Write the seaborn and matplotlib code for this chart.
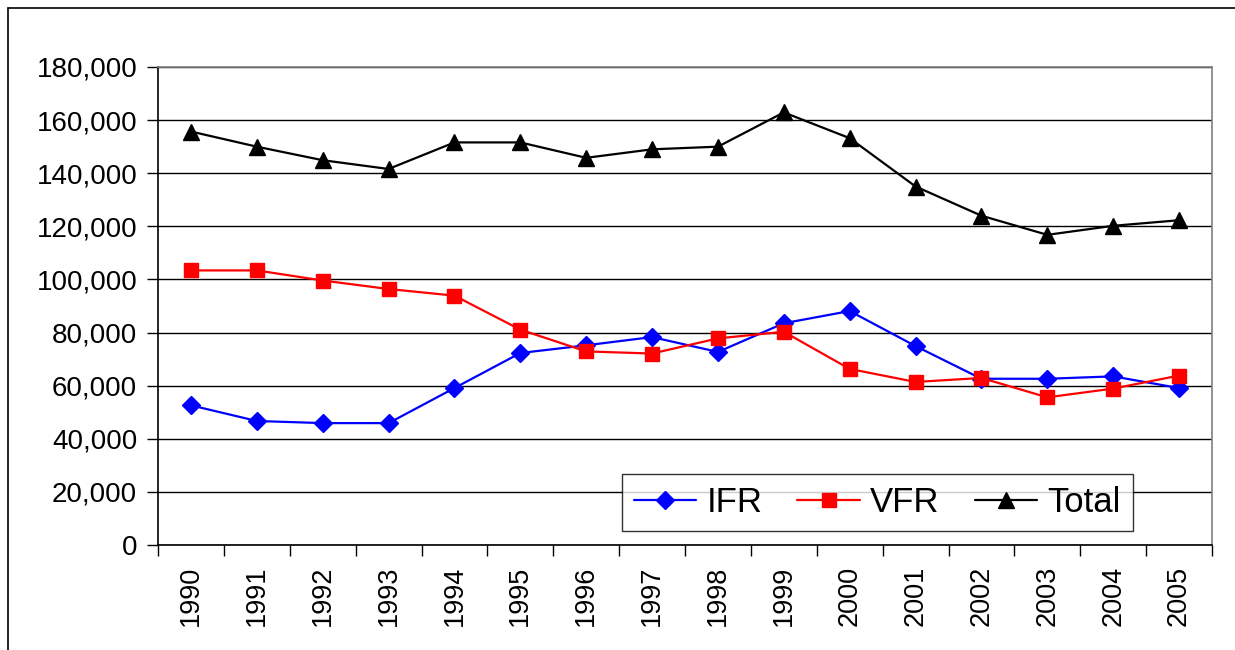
import matplotlib
matplotlib.use("Agg")
import matplotlib.pyplot as plt
from matplotlib.lines import Line2D
from matplotlib.ticker import FuncFormatter, FixedLocator
import seaborn as sns
import pandas as pd

years = [str(y) for y in range(1990, 2006)]
ifr = [52600, 46700, 45900, 45900, 59100, 72300, 75200, 78300,
       72700, 83500, 88100, 74900, 62600, 62600, 63500, 59100]
vfr = [103400, 103400, 99600, 96400, 93900, 81100, 72900, 72100,
       77800, 80300, 66300, 61400, 62900, 55600, 58900, 63800]
total = [155700, 150000, 144900, 141600, 151600, 151600, 145800, 149000,
         150000, 162900, 153200, 135000, 124000, 116800, 120200, 122300]

series = [("IFR", ifr, "#0000ff", "D", 9.5),
          ("VFR", vfr, "#ff0000", "s", 9.5),
          ("Total", total, "#000000", "^", 11.0)]

sns.set_theme(style="white")
plt.rcParams["font.family"] = ["Liberation Sans", "DejaVu Sans"]
plt.rcParams["text.color"] = "black"
plt.rcParams["xtick.color"] = "black"
plt.rcParams["ytick.color"] = "black"

fig = plt.figure(figsize=(12.35, 6.5), dpi=100)
ax = fig.add_axes([158 / 1235, 1 - 545 / 650, (1212 - 158) / 1235, (545 - 67) / 650])

for name, vals, color, marker, ms in series:
    df = pd.DataFrame({"year": years, "value": vals})
    sns.lineplot(data=df, x="year", y="value", ax=ax, color=color,
                 marker=marker, markersize=ms, markeredgecolor=color,
                 markeredgewidth=1, linewidth=1.6, label=name, sort=False)

ax.set_xlim(-0.5, len(years) - 0.5)
ax.set_ylim(0, 180000)
ax.set_xlabel("")
ax.set_ylabel("")

ax.yaxis.set_major_locator(FixedLocator(list(range(0, 180001, 20000))))
ax.yaxis.set_major_formatter(FuncFormatter(lambda v, p: f"{int(v):,}"))
ax.yaxis.grid(True, color="#000000", linewidth=1.0)
ax.xaxis.grid(False)
ax.set_axisbelow(True)

ax.tick_params(axis="y", which="major", direction="out", length=8, width=1,
               color="black", labelcolor="black", labelsize=20, pad=7, left=True)
ax.tick_params(axis="x", which="major", length=0, labelsize=19.5, pad=15,
               labelcolor="black", labelrotation=90)
ax.set_xticks(range(len(years)))
ax.set_xticklabels(years)
ax.xaxis.set_minor_locator(FixedLocator([i - 0.5 for i in range(len(years) + 1)]))
ax.tick_params(axis="x", which="minor", direction="out", length=8, width=1,
               color="black", bottom=True)
for lbl in ax.get_xticklabels():
    lbl.set_verticalalignment("top")

for side in ["top", "right"]:
    ax.spines[side].set_color("#808080")
    ax.spines[side].set_linewidth(1.2)
for side in ["left", "bottom"]:
    ax.spines[side].set_color("#000000")
    ax.spines[side].set_linewidth(1.2)

leg = ax.legend(loc="lower right", bbox_to_anchor=(0.925, 0.029), ncol=3,
                fontsize=25, frameon=True, fancybox=False, edgecolor="black",
                handlelength=1.8, handletextpad=0.3, columnspacing=1.0,
                borderpad=0.35, borderaxespad=0)
leg.get_frame().set_linewidth(1.0)
for t in leg.get_texts():
    t.set_color("black")

# outer chart frame
fig.add_artist(Line2D([8 / 1235, 8 / 1235], [-0.1, 1 - 8 / 650],
                      transform=fig.transFigure, color="black", linewidth=1.2))
fig.add_artist(Line2D([8 / 1235, 1.1], [1 - 8 / 650, 1 - 8 / 650],
                      transform=fig.transFigure, color="black", linewidth=1.2))

fig.savefig("out.png", dpi=100)
